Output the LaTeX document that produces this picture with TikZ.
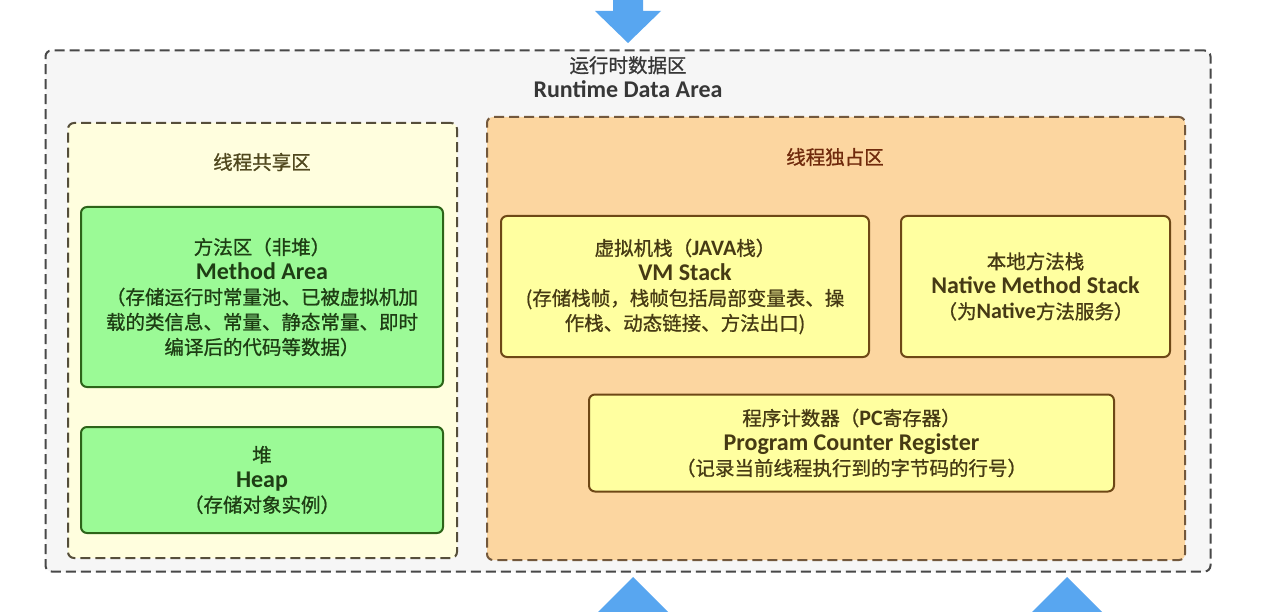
\documentclass[tikz,border=0pt]{standalone}
\usepackage{fontspec}
\setmainfont{Noto Sans CJK SC}[FakeBold=0.9]
\newfontfamily\latf{Carlito}
\newcommand\engl[1]{{\latf\bfseries\fontsize{24}{25}\selectfont #1}}
\newcommand\engi[1]{{\latf\bfseries\fontsize{22}{25}\selectfont #1}}
\definecolor{outerfill}{RGB}{246,246,246}
\definecolor{outerline}{RGB}{72,72,72}
\definecolor{sharedfill}{RGB}{255,254,222}
\definecolor{sharedline}{RGB}{85,78,58}
\definecolor{privfill}{RGB}{252,214,160}
\definecolor{privline}{RGB}{115,88,60}
\definecolor{greenfill}{RGB}{155,250,150}
\definecolor{greenline}{RGB}{45,100,25}
\definecolor{greentext}{RGB}{30,62,20}
\definecolor{yelfill}{RGB}{255,255,160}
\definecolor{yelline}{RGB}{110,72,22}
\definecolor{yeltext}{RGB}{70,58,20}
\definecolor{arrowblue}{RGB}{88,166,240}
\definecolor{titletext}{RGB}{55,55,55}
\definecolor{sharedtext}{RGB}{80,72,30}
\definecolor{privtext}{RGB}{112,42,12}
\begin{document}
\begin{tikzpicture}[x=1pt,y=-1pt,
  every node/.style={inner sep=0pt, outer sep=0pt},
  txt/.style={align=center, font=\fontsize{19.5}{25}\selectfont},
  outerbox/.style={draw=outerline, fill=outerfill, line width=2pt, dash pattern=on 10pt off 5pt, rounded corners=6pt},
  sharedpanel/.style={draw=sharedline, fill=sharedfill, line width=2pt, dash pattern=on 10pt off 5pt, rounded corners=6pt},
  privpanel/.style={draw=privline, fill=privfill, line width=2pt, dash pattern=on 10pt off 5pt, rounded corners=6pt},
  greenbox/.style={draw=greenline, fill=greenfill, line width=2pt, rounded corners=6pt, txt, text=greentext},
  yelbox/.style={draw=yelline, fill=yelfill, line width=2pt, rounded corners=6pt, txt, text=yeltext},
  bluearrow/.style={fill=arrowblue}
]
\useasboundingbox[fill=white] (0,0) rectangle (1284,612);

% regions
\node[outerbox, minimum width=1165pt, minimum height=521pt] (outer) at (628,311) {};
\node[sharedpanel, minimum width=389pt, minimum height=435pt] (shared) at (262.5,340.5) {};
\node[privpanel, minimum width=698pt, minimum height=443pt] (priv) at (836,338.5) {};

% titles
\node[txt, text=titletext] (title) at (628,77) {运行时数据区\\\engl{Runtime Data Area}};
\node[txt, text=sharedtext] (sharedlabel) at (262,162) {线程共享区};
\node[txt, text=privtext] (privlabel) at (835,157) {线程独占区};

% shared area boxes
\node[greenbox, minimum width=362pt, minimum height=180pt] (method) at (262,297)
  {方法区（非堆）\\\engl{Method Area}\\（存储运行时常量池、已被虚拟机加\\载的类信息、常量、静态常量、即时\\编译后的代码等数据）};
\node[greenbox, minimum width=362pt, minimum height=106pt] (heap) at (262,480)
  {堆\\\engl{Heap}\\（存储对象实例）};

% private area boxes
\node[yelbox, minimum width=368pt, minimum height=141pt] (vm) at (685,286.5)
  {虚拟机栈（\engi{JAVA}栈）\\\engl{VM Stack}\\(存储栈帧，栈帧包括局部变量表、操\\作栈、动态链接、方法出口)};
\node[yelbox, minimum width=269pt, minimum height=141pt] (native) at (1035.5,286.5)
  {本地方法栈\\\engl{Native Method Stack}\\（为\engi{Native}方法服务）};
\node[yelbox, minimum width=525pt, minimum height=97pt] (pc) at (851.5,443)
  {程序计数器（\engi{PC}寄存器）\\\engl{Program Counter Register}\\（记录当前线程执行到的字节码的行号）};

% arrows entering / leaving
\fill[bluearrow] (613,0) -- (643,0) -- (643,11) -- (661,11) -- (628,43) -- (595,11) -- (613,11) -- cycle;
\fill[bluearrow] (633,577) -- (668,612) -- (598,612) -- cycle;
\fill[bluearrow] (1067,577) -- (1102,612) -- (1032,612) -- cycle;
\end{tikzpicture}
\end{document}
